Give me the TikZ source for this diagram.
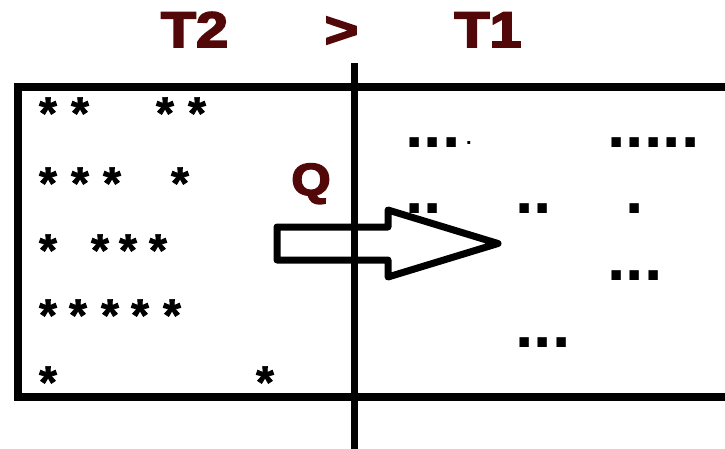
\documentclass[tikz,border=0pt]{standalone}
\usepackage{fontspec}
\usepackage{graphicx}
\newfontfamily\heavyfont{Liberation Sans Bold}[FakeBold=3.5]
\newfontfamily\boldsans{Liberation Sans Bold}
\newfontfamily\starfont{Liberation Sans Bold}[FakeBold=1.5]
\definecolor{titlered}{RGB}{82,8,8}
\tikzset{
  ttl/.style={text=titlered, font=\heavyfont\fontsize{50}{50}\selectfont, inner sep=0pt, anchor=base},
  qlabel/.style={text=titlered, font=\heavyfont\fontsize{45}{45}\selectfont, inner sep=0pt, anchor=base},
  st/.style={font=\starfont\fontsize{46}{46}\selectfont, inner sep=0pt, anchor=base},
  dt/.style={font=\boldsans\fontsize{66}{66}\selectfont, inner sep=0pt, anchor=base west},
  tinydt/.style={font=\boldsans\fontsize{20}{20}\selectfont, inner sep=0pt, anchor=base west},
  frame/.style={line width=8pt},
  divider/.style={line width=7pt},
  blockarrow/.style={line width=7pt, line join=round},
}
\begin{document}
\begin{tikzpicture}[x=1pt,y=-1pt]
\useasboundingbox (0,0) rectangle (725,448);
\clip (0,0) rectangle (725,448);
% frame and divider
\draw[frame] (18,87) rectangle (729,397);
\coordinate (vtop) at (354,63);
\coordinate (vbot) at (354,452);
\draw[divider] (vtop) -- (vbot);
% titles
\node[ttl] (t2) at (194.5,47) {\scalebox{1.15}[1]{T2}};
\node[ttl] (gt) at (341.5,47) {\scalebox{1.15}[1]{>}};
\node[ttl] (t1) at (488,47) {\scalebox{1.15}[1]{T1}};
\node[qlabel] (q) at (311,195) {\scalebox{1.12}[1]{Q}};
% stars
\foreach \x/\y [count=\i] in {48/103,80/103,165/103,197/103,
  48/173,80/173,112/173,180/173,
  48/240,100/240,128/240,158/240,
  48/305,78/305,110/305,140/305,172/305,
  48/372,265/372}
  \node[st] (s\i) at (\x,\y+26) {*};
% dots
\node[dt] (a1) at (405.4,147) {...};
\node[tinydt] (a2) at (466,144) {.};
\node[dt] (a3) at (607.4,147) {.....};
\node[dt] (b1) at (405.4,213) {..};
\node[dt] (b2) at (515.4,213) {..};
\node[dt] (b3) at (625.4,213) {.};
\node[dt] (c1) at (607.4,280) {...};
\node[dt] (d1) at (515.4,347) {...};
% block arrow
\draw[blockarrow] (277,227) -- (388,227) -- (388,210) -- (498,243.5)
  -- (388,277) -- (388,260) -- (277,260) -- cycle;
\end{tikzpicture}
\end{document}
